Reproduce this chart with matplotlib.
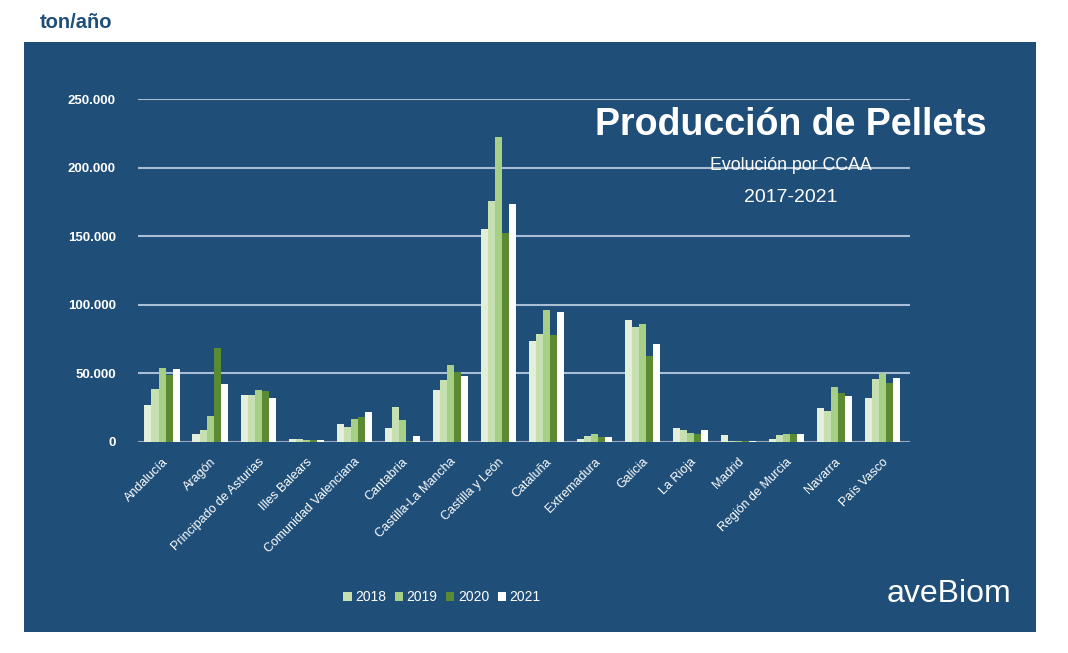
import numpy as np
import matplotlib.pyplot as plt
from matplotlib.patches import Rectangle
from matplotlib.ticker import FuncFormatter

regions = ['Andalucía', 'Aragón', 'Principado de Asturias', 'Illes Balears',
           'Comunidad Valenciana', 'Cantabria', 'Castilla-La Mancha', 'Castilla y León',
           'Cataluña', 'Extremadura', 'Galicia', 'La Rioja', 'Madrid',
           'Región de Murcia', 'Navarra', 'País Vasco']

# ton/año
y2017 = [27000, 6000, 34000, 2000, 13000, 10500, 38000, 155000, 73500, 2500, 89000, 10000, 5000, 2500, 25000, 32000]
y2018 = [38500, 9000, 34000, 2000, 11000, 25500, 45000, 176000, 79000, 4600, 83500, 8500, 1000, 5000, 22500, 46000]
y2019 = [54000, 19000, 38000, 1800, 17000, 16000, 56000, 222000, 96500, 5600, 86000, 6500, 1000, 5600, 40000, 50000]
y2020 = [49000, 68500, 37000, 1500, 18000, 1000, 51000, 152500, 78000, 4000, 62500, 6000, 800, 5600, 36000, 43000]
y2021 = [53000, 42000, 32000, 1500, 22000, 4500, 48000, 173500, 95000, 3800, 71500, 8500, 500, 5600, 33500, 46500]

series = [y2017, y2018, y2019, y2020, y2021]
labels = ['_2017', '2018', '2019', '2020', '2021']
colors = ['#e3efd8', '#c6e0b2', '#a8cf88', '#5a8a32', '#ffffff']

plt.rcParams['font.family'] = ['Liberation Sans', 'DejaVu Sans']

navy = '#1f4e79'
fig = plt.figure(figsize=(10.68, 6.53), dpi=100)
fig.patch.set_facecolor('white')
fig.patches.append(Rectangle((24 / 1068, 1 - 632 / 653), 1012 / 1068, 590 / 653,
                             transform=fig.transFigure, facecolor=navy,
                             edgecolor='none', zorder=-10))

ax = fig.add_axes([138 / 1068, 1 - 442 / 653, (910 - 138) / 1068, (442 - 99) / 653])
ax.set_facecolor('none')

x = np.arange(len(regions))
n = len(series)
width = 0.146
for i, (vals, lab, c) in enumerate(zip(series, labels, colors)):
    ax.bar(x + (i - (n - 1) / 2) * width, vals, width=width, color=c,
           edgecolor='none', label=lab, zorder=3)

ax.set_xlim(-0.5, 15.58)
ax.set_ylim(0, 250000)
ax.set_yticks(np.arange(0, 250001, 50000))
ax.yaxis.set_major_formatter(FuncFormatter(lambda v, p: '{:,.0f}'.format(v).replace(',', '.')))
ax.grid(axis='y', color='#a9bdd4', linewidth=1.5, zorder=1)
ax.axhline(0, color='#9aa6b4', linewidth=2, zorder=2)
for s in ax.spines.values():
    s.set_visible(False)
ax.tick_params(axis='both', length=0, colors='white')
for t in ax.get_yticklabels():
    t.set_fontweight('bold')
    t.set_fontsize(9.5)
ax.tick_params(axis='y', pad=16)

ax.set_xticks(x)
ax.set_xticklabels(regions, rotation=45, ha='right', rotation_mode='anchor',
                   fontsize=9, color='white')
ax.tick_params(axis='x', pad=10)

fig.text(40 / 1068, 1 - 22 / 653, 'ton/año', fontsize=14.5, fontweight='bold',
         color=navy, va='center', ha='left')
fig.text(791 / 1068, 1 - 125 / 653, 'Producción de Pellets', fontsize=27,
         fontweight='bold', color='white', ha='center', va='center')
fig.text(791 / 1068, 1 - 166 / 653, 'Evolución por CCAA', fontsize=12.8,
         color='white', ha='center', va='center')
fig.text(791 / 1068, 1 - 198 / 653, '2017-2021', fontsize=14,
         color='white', ha='center', va='center')
fig.text(949 / 1068, 1 - 594 / 653, 'aveBiom', fontsize=23, color='white',
         ha='center', va='center')

leg = ax.legend(loc='center', bbox_to_anchor=(442 / 1068, 1 - 597 / 653),
                bbox_transform=fig.transFigure, ncol=4, frameon=False,
                fontsize=10, handlelength=0.6, handleheight=0.6,
                handletextpad=0.25, columnspacing=0.62)
for t in leg.get_texts():
    t.set_color('white')

fig.savefig('out.png', dpi=100)
